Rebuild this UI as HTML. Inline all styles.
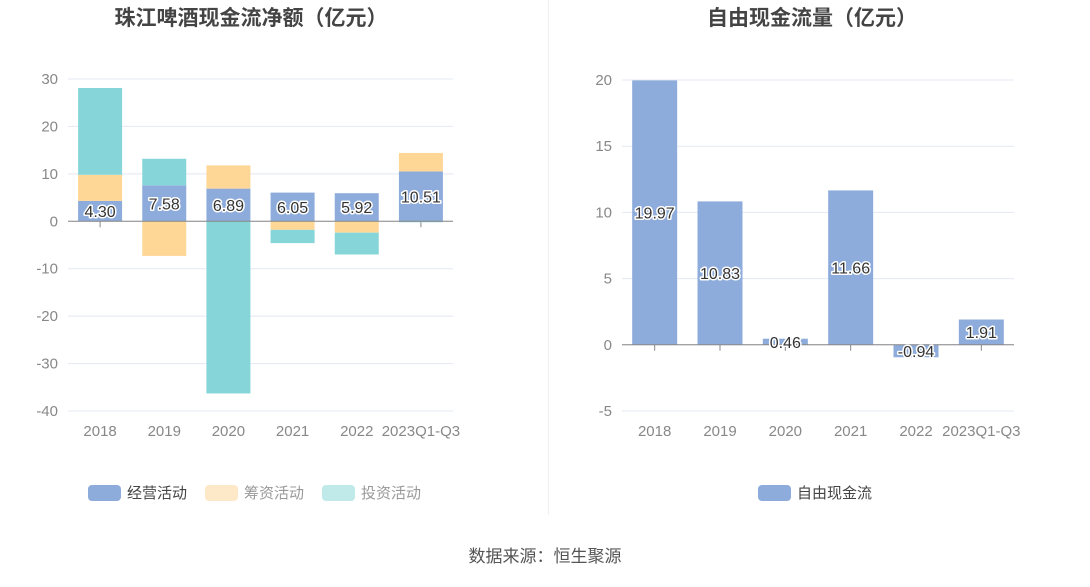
<!DOCTYPE html>
<html><head><meta charset="utf-8">
<style>
body{margin:0;background:#fff;width:1090px;height:582px;overflow:hidden;font-family:"Liberation Sans","Noto Sans CJK SC",sans-serif;}
svg text{font-family:"Liberation Sans","Noto Sans CJK SC",sans-serif;}
.lbl{font-size:16px;fill:#333;stroke:#fff;stroke-width:3px;paint-order:stroke;stroke-linejoin:round;}
</style></head><body>
<svg id="svg" width="1090" height="582">
<line x1="548.5" y1="0" x2="548.5" y2="515" stroke="#eef0f3" stroke-width="1"/>
<text x="251" y="25" text-anchor="middle" font-size="21" font-weight="bold" fill="#444">珠江啤酒现金流净额（亿元）</text>
<text x="812" y="25" text-anchor="middle" font-size="21" font-weight="bold" fill="#444">自由现金流量（亿元）</text>
<g id="left"></g><g id="right"></g>
<g>
<rect x="88" y="485" width="33" height="16" rx="4" fill="#8eacdb"/>
<text x="127" y="498" font-size="15" fill="#444">经营活动</text>
<rect x="205" y="485" width="33" height="16" rx="4" fill="#fde9c7"/>
<text x="244" y="498" font-size="15" fill="#999">筹资活动</text>
<rect x="322" y="485" width="33" height="16" rx="4" fill="#c0e9ea"/>
<text x="361" y="498" font-size="15" fill="#999">投资活动</text>
</g>
<g>
<rect x="758" y="485" width="33" height="16" rx="4" fill="#8eacdb"/>
<text x="797" y="498" font-size="15" fill="#444">自由现金流</text>
</g>
<text x="545" y="562" text-anchor="middle" font-size="17" fill="#555">数据来源：恒生聚源</text>
</svg>
<script>
const categories=["2018","2019","2020","2021","2022","2023Q1-Q3"];
const operating=[4.30,7.58,6.89,6.05,5.92,10.51];
const financing=[5.5,-7.3,4.9,-1.8,-2.4,3.9];
const investing=[18.3,5.6,-36.3,-2.8,-4.6,-0.2];
const leftTicks=[30,20,10,0,-10,-20,-30,-40];
const fcf=[19.97,10.83,0.46,11.66,-0.94,1.91];
const rightTicks=[20,15,10,5,0,-5];
const NS="http://www.w3.org/2000/svg";
function mk(p,t,a){const e=document.createElementNS(NS,t);for(const k in a)e.setAttribute(k,a[k]);p.appendChild(e);return e;}
function axisChart(g,o){
  const y=v=>o.y0+(o.max-v)/(o.max-o.min)*(o.y1-o.y0);
  const bw=(o.x1-o.x0)/o.cats.length;
  const x=i=>o.x0+bw*(i+0.5);
  o.ticks.forEach(t=>{
    const l=mk(g,'line',{x1:o.x0,x2:o.x1,y1:y(t),y2:y(t),stroke:'#e3e8f2'});
    
    
    const tx=mk(g,'text',{x:o.x0-10,y:y(t)+5,'text-anchor':'end','font-size':15,fill:'#888'});
    tx.textContent=t;
    
    
  });
  o.cats.forEach((c,i)=>{
    const tk=mk(g,'line',{x1:x(i),x2:x(i),y1:y(0),y2:y(0)+6,stroke:'#888'});
    
    
    const tx=mk(g,'text',{x:x(i),y:o.y1+25,'text-anchor':'middle','font-size':15,fill:'#888'});
    tx.textContent=c;
    
    
  });
  return {y,x,bw};
}
const L=document.getElementById('left');
const la=axisChart(L,{x0:68,x1:453,y0:79,y1:411,max:30,min:-40,ticks:leftTicks,cats:categories});
const series=[[operating,'#8eacdb','operating'],[financing,'#fed797','financing'],[investing,'#86d5d8','investing']];
const pos=categories.map(()=>0),neg=categories.map(()=>0);
series.forEach(([vals,col,nm])=>{
  vals.forEach((v,i)=>{
    let a,b;
    if(v>=0){a=pos[i];b=pos[i]+v;pos[i]=b;}else{a=neg[i];b=neg[i]+v;neg[i]=b;}
    const yt=la.y(Math.max(a,b)),yb=la.y(Math.min(a,b));
    const r=mk(L,'rect',{x:la.x(i)-22,y:yt,width:44,height:Math.max(0,yb-yt),fill:col});
    
    
  });
});
mk(L,'line',{x1:68,x2:453,y1:la.y(0),y2:la.y(0),stroke:'#888'});
operating.forEach((v,i)=>{
  const t=mk(L,'text',{x:la.x(i),y:la.y(v/2)+6,'text-anchor':'middle',class:'lbl'});
  t.textContent=v.toFixed(2);
  
  
});
const R=document.getElementById('right');
const ra=axisChart(R,{x0:622,x1:1014,y0:80,y1:411,max:20,min:-5,ticks:rightTicks,cats:categories});
fcf.forEach((v,i)=>{
  const yt=ra.y(Math.max(0,v)),yb=ra.y(Math.min(0,v));
  const r=mk(R,'rect',{x:ra.x(i)-22.5,y:yt,width:45,height:yb-yt,fill:'#8eacdb'});
  
  
});
mk(R,'line',{x1:622,x2:1014,y1:ra.y(0),y2:ra.y(0),stroke:'#888'});
fcf.forEach((v,i)=>{
  const t=mk(R,'text',{x:ra.x(i),y:ra.y(v/2)+6,'text-anchor':'middle',class:'lbl'});
  t.textContent=v.toFixed(2);
  
  
});
</script>
</body></html>
